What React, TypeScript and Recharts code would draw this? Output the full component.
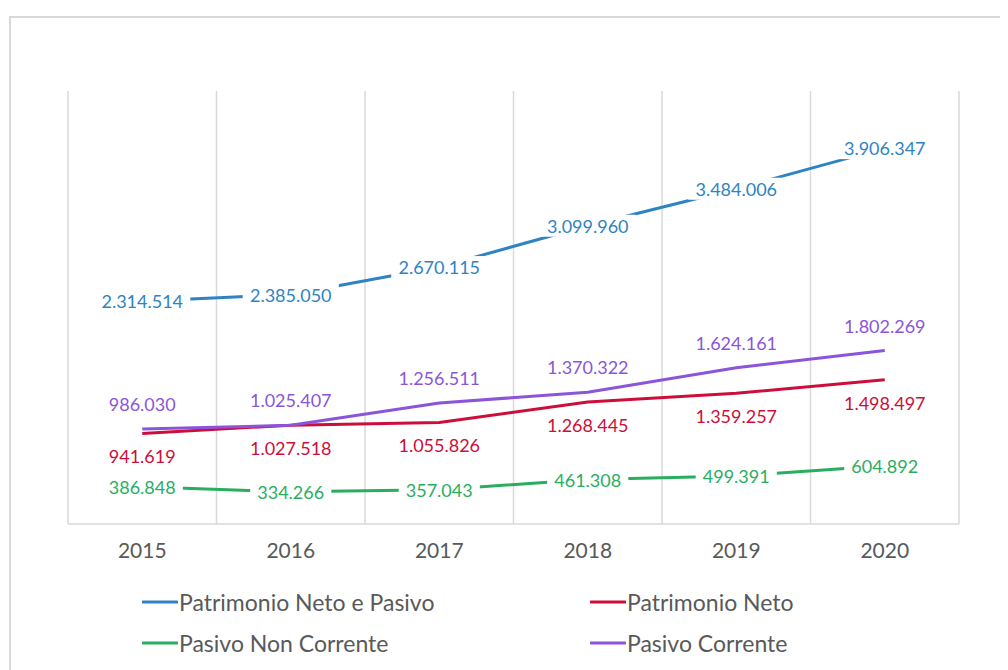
import React from 'react';
import { LineChart, Line, XAxis, YAxis, CartesianGrid, Legend, LabelList } from 'recharts';

const years = ['2015', '2016', '2017', '2018', '2019', '2020'];
const patrimonioNetoEPasivo = [2314514, 2385050, 2670115, 3099960, 3484006, 3906347];
const patrimonioNeto = [941619, 1027518, 1055826, 1268445, 1359257, 1498497];
const pasivoNonCorrente = [386848, 334266, 357043, 461308, 499391, 604892];
const pasivoCorrente = [986030, 1025407, 1256511, 1370322, 1624161, 1802269];
const yMax = 4500000;

const FONT = 'Lato, "Open Sans", sans-serif';
const TEXT_GRAY = '#595959';
const GRID = '#d9d9d9';

type Mode = 'center' | 'above' | 'below';
const series: { key: string; name: string; color: string; mode: Mode; values: number[] }[] = [
  { key: 'pnp', name: 'Patrimonio Neto e Pasivo', color: '#2E84C2', mode: 'center', values: patrimonioNetoEPasivo },
  { key: 'pn', name: 'Patrimonio Neto', color: '#CE0E3A', mode: 'below', values: patrimonioNeto },
  { key: 'pnc', name: 'Pasivo Non Corrente', color: '#29AE5F', mode: 'center', values: pasivoNonCorrente },
  { key: 'pc', name: 'Pasivo Corrente', color: '#8B55DA', mode: 'above', values: pasivoCorrente },
];

const legendOrder = ['pnp', 'pn', 'pnc', 'pc'];

const data = years.map((year, i) => {
  const row: Record<string, string | number> = { year };
  series.forEach((s) => {
    row[s.key] = s.values[i];
  });
  return row;
});

const fmt = (v: number) => String(Math.round(v)).replace(/\B(?=(\d{3})+(?!\d))/g, '.');

const LABEL_SIZE = 18;

const makeLabel = (color: string, mode: Mode) => (props: any) => {
  const { x, y, value } = props;
  if (x == null || y == null) return null;
  const txt = fmt(Number(value));
  const digits = txt.replace(/\./g, '').length;
  const dots = txt.length - digits;
  const w = digits * 0.58 * LABEL_SIZE + dots * 0.25 * LABEL_SIZE;
  let cy = y;
  if (mode === 'above') cy = y - 25;
  if (mode === 'below') cy = y + 23;
  return (
    <g>
      {mode === 'center' && (
        <rect x={x - w / 2 - 7} y={cy - 11} width={w + 14} height={22} fill="#ffffff" />
      )}
      <text
        x={x}
        y={cy}
        textAnchor="middle"
        dominantBaseline="central"
        fill={color}
        fontSize={LABEL_SIZE}
        fontFamily={FONT}
      >
        {txt}
      </text>
    </g>
  );
};

const LegendContent = () => {
  const positions = [
    { left: 134, top: 582 },
    { left: 582, top: 582 },
    { left: 134, top: 623 },
    { left: 582, top: 623 },
  ];
  return (
    <div style={{ position: 'relative', width: 1000, height: 80 }}>
      {legendOrder.map((k, i) => {
        const s = series.find((x) => x.key === k)!;
        const p = positions[i];
        return (
          <div
            key={k}
            style={{
              position: 'absolute',
              left: p.left,
              top: p.top - 580,
              display: 'flex',
              alignItems: 'center',
              height: 24,
              whiteSpace: 'nowrap',
            }}
          >
            <svg width={36} height={6} style={{ display: 'block' }}>
              <line x1={1} y1={3} x2={35} y2={3} stroke={s.color} strokeWidth={3} strokeLinecap="round" />
            </svg>
            <span style={{ fontFamily: FONT, fontSize: 23, color: TEXT_GRAY, marginLeft: 1 }}>{s.name}</span>
          </div>
        );
      })}
    </div>
  );
};

export default function App() {
  return (
    <div style={{ position: 'relative', width: 1000, height: 662, overflow: 'hidden', background: '#fff' }}>
      <div
        style={{
          position: 'absolute',
          left: 1,
          top: 8,
          width: 1200,
          height: 1000,
          border: `2px solid ${GRID}`,
          boxSizing: 'border-box',
        }}
      />
      <div style={{ position: 'absolute', left: 0, top: 0 }}>
        <LineChart
          width={1000}
          height={662}
          data={data}
          margin={{ top: 83, right: 49, left: 60, bottom: 26 }}
          style={{ fontFamily: FONT }}
        >
          <CartesianGrid
            horizontal={false}
            stroke={GRID}
            strokeWidth={1.5}
            verticalCoordinatesGenerator={({ offset }: any) =>
              Array.from({ length: years.length + 1 }, (_, i) => offset.left + (i * offset.width) / years.length)
            }
          />
          <XAxis
            dataKey="year"
            scale="band"
            height={40}
            tickLine={false}
            axisLine={{ stroke: GRID, strokeWidth: 1.5 }}
            tick={{ fill: TEXT_GRAY, fontSize: 21, fontFamily: FONT }}
            tickMargin={13}
            interval={0}
          />
          <YAxis hide domain={[0, yMax]} type="number" />
          {series.map((s) => (
            <Line
              key={s.key}
              dataKey={s.key}
              name={s.name}
              stroke={s.color}
              strokeWidth={3}
              dot={false}
              activeDot={false}
              isAnimationActive={false}
            >
              <LabelList dataKey={s.key} content={makeLabel(s.color, s.mode)} />
            </Line>
          ))}
          <Legend
            content={<LegendContent />}
            wrapperStyle={{ position: 'absolute', left: 0, top: 580, width: 1000, height: 80 }}
          />
        </LineChart>
      </div>
    </div>
  );
}
